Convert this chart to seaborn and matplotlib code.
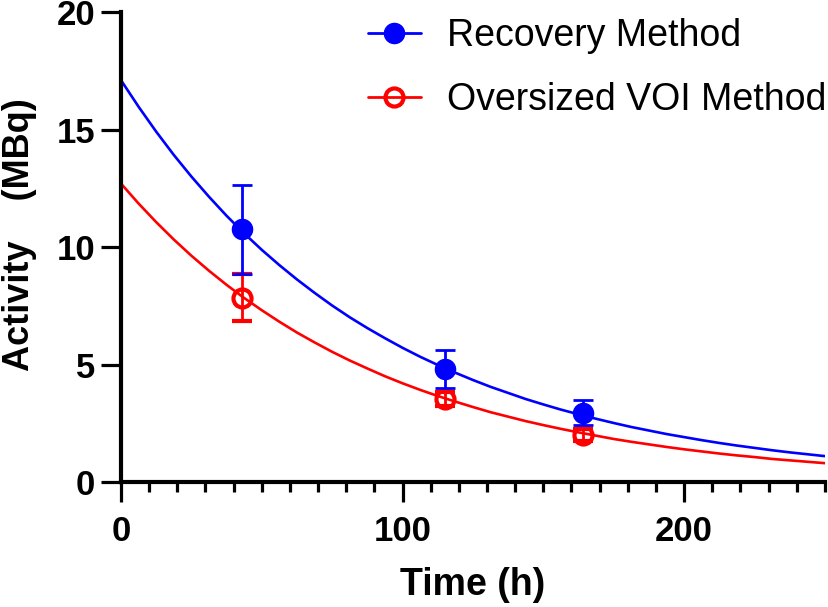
import numpy as np
import pandas as pd
import matplotlib
matplotlib.use("Agg")
import matplotlib.pyplot as plt
from matplotlib.ticker import MultipleLocator
from matplotlib.lines import Line2D
import seaborn as sns

# Measured points (mean +/- error)
time_h = [43, 115, 164]
recovery_mean = [10.75, 4.80, 2.95]
recovery_err = [1.90, 0.82, 0.52]
oversized_mean = [7.85, 3.55, 2.00]
oversized_err = [1.00, 0.30, 0.25]

# Fitted decay curves, every 6.25 h from 0 to 250 h
curve_time = np.arange(0, 250.01, 6.25)
recovery_fit = [17.10, 15.97, 14.91, 13.92, 13.00, 12.14, 11.33, 10.58, 9.88, 9.23, 8.62,
                8.05, 7.51, 7.01, 6.55, 6.12, 5.71, 5.33, 4.98, 4.65, 4.34, 4.05, 3.79,
                3.53, 3.30, 3.08, 2.88, 2.69, 2.51, 2.34, 2.19, 2.04, 1.91, 1.78, 1.66,
                1.55, 1.45, 1.35, 1.26, 1.18, 1.10]
oversized_fit = [12.70, 11.85, 11.06, 10.32, 9.63, 8.99, 8.39, 7.83, 7.31, 6.82, 6.36,
                 5.94, 5.54, 5.17, 4.83, 4.50, 4.20, 3.92, 3.66, 3.42, 3.19, 2.97, 2.78,
                 2.59, 2.42, 2.26, 2.11, 1.97, 1.83, 1.71, 1.60, 1.49, 1.39, 1.30, 1.21,
                 1.13, 1.06, 0.98, 0.92, 0.86, 0.80]

BLUE = "#0000ff"
RED = "#ff0000"

sns.set_style("ticks")
plt.rcParams["font.family"] = ["Liberation Sans", "DejaVu Sans"]
plt.rcParams["text.color"] = "black"
plt.rcParams["axes.labelcolor"] = "black"

fig = plt.figure(figsize=(8.29, 6.07), dpi=100)
ax = fig.add_axes([0.146, 0.206, 0.849, 0.774])

n = len(curve_time)
fits = pd.DataFrame({"time": list(curve_time) * 2,
                     "activity": recovery_fit + oversized_fit,
                     "method": ["Recovery"] * n + ["Oversized"] * n})
sns.lineplot(data=fits, x="time", y="activity", hue="method",
             palette={"Recovery": BLUE, "Oversized": RED}, lw=1.9,
             legend=False, ax=ax, zorder=2)

# error bars + markers
ax.errorbar(time_h, oversized_mean, yerr=oversized_err, fmt="o", color=RED,
            mfc="none", mec=RED, mew=3, ms=13, elinewidth=2, capsize=7.5,
            capthick=2, zorder=3)
ax.errorbar(time_h, recovery_mean, yerr=recovery_err, fmt="o", color=BLUE,
            ms=14.5, elinewidth=2, capsize=7.5, capthick=2, zorder=4)

handles = [Line2D([], [], color=BLUE, lw=2, marker="o", ms=14.5),
           Line2D([], [], color=RED, lw=2, marker="o", ms=13, mfc="none", mew=3)]
ax.legend(handles, ["Recovery Method", "Oversized VOI Method"], loc="upper right",
          bbox_to_anchor=(1.05, 1.06), frameon=False, fontsize=27,
          handlelength=1.4, handletextpad=0.7, labelspacing=0.75)

ax.set_xlim(0, 250)
ax.set_ylim(0, 20)
ax.set_xticks([0, 100, 200])
ax.xaxis.set_minor_locator(MultipleLocator(10))
ax.set_yticks([0, 5, 10, 15, 20])

sns.despine(ax=ax)
for side in ["left", "bottom"]:
    ax.spines[side].set_linewidth(3)
    ax.spines[side].set_color("black")
    ax.spines[side].set_zorder(5)
ax.tick_params(axis="both", which="major", length=14.5, width=2.3, labelsize=25,
               colors="black", labelcolor="black")
ax.tick_params(axis="x", which="major", pad=9)
ax.tick_params(axis="y", which="major", pad=4)
ax.tick_params(axis="x", which="minor", length=7.5, width=2.3, colors="black")
for lab in ax.get_xticklabels() + ax.get_yticklabels():
    lab.set_fontweight("bold")

ax.set_xlabel("Time (h)", fontsize=27, fontweight="bold", labelpad=14)
ax.set_ylabel("Activity    (MBq)", fontsize=26, fontweight="bold")
ax.yaxis.set_label_coords(-0.119, 0.5255)

fig.savefig("out.png", dpi=100)
